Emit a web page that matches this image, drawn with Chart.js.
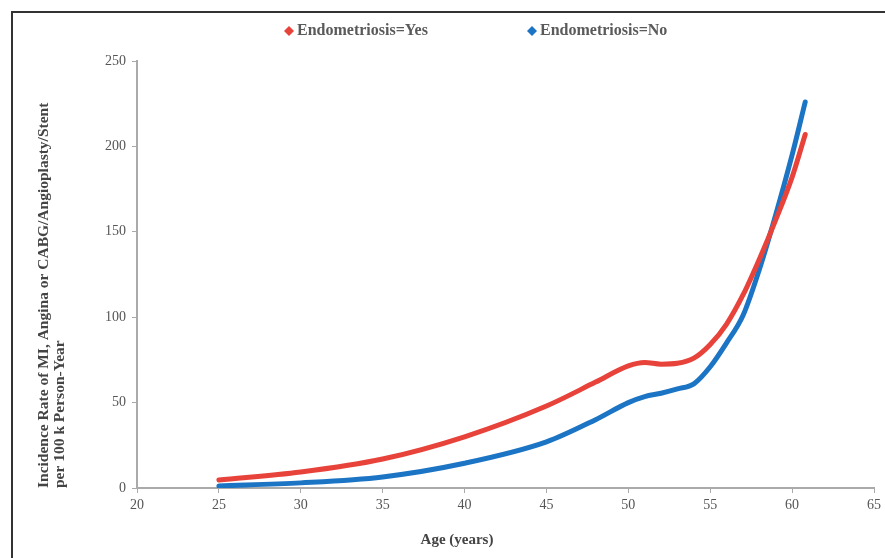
<!DOCTYPE html>
<html>
<head>
<meta charset="utf-8">
<script src="https://cdn.jsdelivr.net/npm/chart.js@4/dist/chart.umd.min.js"></script>
<style>
  body { margin: 0; background: #fff; }
  #wrap { position: relative; width: 885px; height: 558px; }
  #frame { position: absolute; left: 11px; top: 11px; right: -5px; bottom: -5px; border-left: 2px solid #333; border-top: 2px solid #333; }
  canvas { position: absolute; left: 0; top: 0; }
</style>
</head>
<body>
<div id="wrap">
  <div id="frame"></div>
  <canvas id="c" width="885" height="558"></canvas>
</div>
<script>
// ages (years) and incidence per 100k person-years
const ages = [25, 30, 35, 40, 45, 48, 50, 51, 52, 53, 54, 55, 56, 57, 58, 59, 60, 60.8];
const endoYes = [4.7, 9.4, 17, 30, 48, 62, 71.5, 73.5, 72.5, 73, 76, 84, 96, 113, 134, 157, 182, 207];
const endoNo  = [1.2, 3, 6.5, 14.5, 27, 40, 50, 53.5, 55.5, 58, 61, 71, 85, 101, 128, 160, 195, 226];
const seriesNames = ["Endometriosis=Yes", "Endometriosis=No"];
const seriesColors = ["#e8433b", "#1c74c4"];
const yTitle = ["Incidence Rate of MI, Angina or CABG/Angioplasty/Stent", "per 100 k Person-Year"];
const xTitle = "Age (years)";

const serif = "'Liberation Serif', 'DejaVu Serif', serif";

function pts(ys){ return ages.map((a, i) => ({x: a, y: ys[i]})); }

// legend and x title drawn by hand: the source puts them off-centre
const labelsPlugin = {
  id: "labels",
  afterDraw(chart){
    const ctx = chart.ctx;
    const spots = [289, 532];
    ctx.save();
    ctx.font = "bold 16px " + serif;
    ctx.textBaseline = "middle";
    chart.data.datasets.forEach((ds, i) => {
      const x = spots[i], y = 31;
      ctx.fillStyle = ds.borderColor;
      ctx.beginPath();
      ctx.moveTo(x, y - 5); ctx.lineTo(x + 5, y); ctx.lineTo(x, y + 5); ctx.lineTo(x - 5, y);
      ctx.closePath(); ctx.fill();
      ctx.fillStyle = "#5a5a5a";
      ctx.fillText(ds.label, x + 8, y);
    });
    ctx.font = "bold 15px " + serif;
    ctx.textAlign = "center";
    ctx.fillStyle = "#444";
    ctx.fillText(xTitle, 457, 540);
    ctx.restore();
  }
};

new Chart(document.getElementById("c"), {
  type: "line",
  data: {
    datasets: [
      {label: seriesNames[0], data: pts(endoYes), borderColor: seriesColors[0], backgroundColor: seriesColors[0],
       borderWidth: 5, pointRadius: 0, cubicInterpolationMode: "monotone", borderCapStyle: "round"},
      {label: seriesNames[1], data: pts(endoNo), borderColor: seriesColors[1], backgroundColor: seriesColors[1],
       borderWidth: 5, pointRadius: 0, cubicInterpolationMode: "monotone", borderCapStyle: "round"}
    ]
  },
  options: {
    responsive: false,
    animation: false,
    events: [],
    layout: {padding: {left: 36, top: 61, right: 10, bottom: 4}},
    plugins: {legend: {display: false}, tooltip: {enabled: false}},
    scales: {
      x: {
        type: "linear", min: 20, max: 65,
        ticks: {stepSize: 5, color: "#555", font: {family: serif, size: 14}, padding: 4},
        grid: {drawOnChartArea: false, drawTicks: true, tickLength: 5, color: "#aaa"},
        border: {color: "#aaa", width: 2},
        afterFit(s){ s.height = 66; }
      },
      y: {
        min: 0, max: 250,
        ticks: {stepSize: 50, color: "#555", font: {family: serif, size: 14}, padding: 6},
        grid: {drawOnChartArea: false, drawTicks: true, tickLength: 5, color: "#aaa"},
        border: {color: "#aaa", width: 2},
        title: {display: true, text: yTitle, align: "start", color: "#444",
                font: {family: serif, size: 15.5, weight: "bold", lineHeight: 1.05}, padding: 0},
        afterFit(s){ s.width = 101; }
      }
    }
  },
  plugins: [labelsPlugin]
});
</script>
</body>
</html>
